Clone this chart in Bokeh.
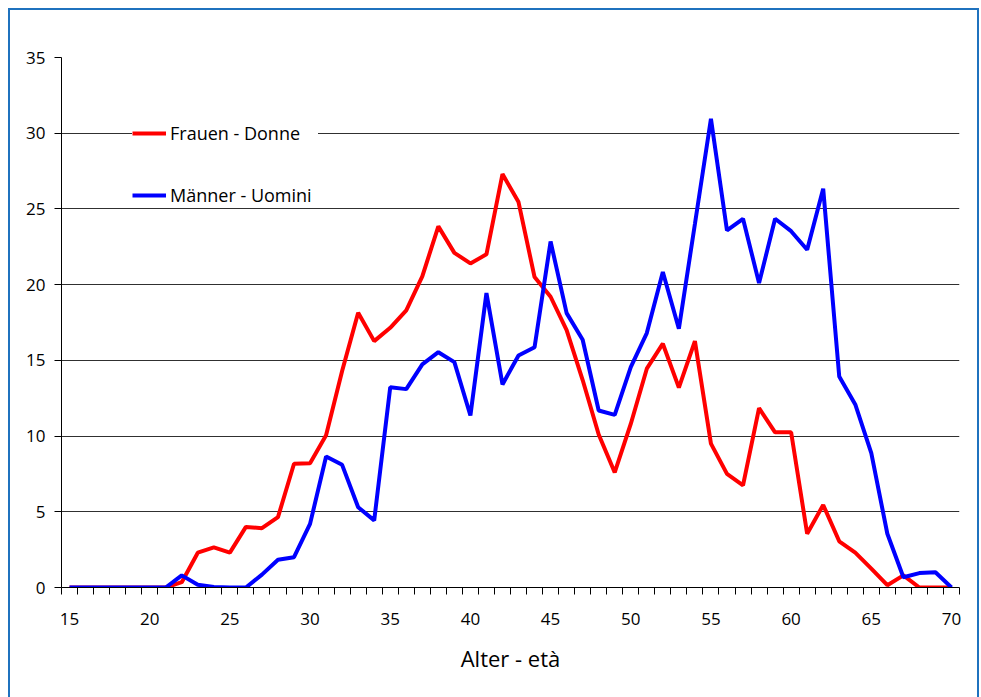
from bokeh.plotting import figure
from bokeh.models import Range1d, FixedTicker, Legend, LegendItem
from bokeh.embed import file_html
from bokeh.resources import INLINE

ages = list(range(15, 71))
frauen = [0, 0, 0, 0, 0, 0, 0, 0.35, 2.3, 2.65, 2.3, 4.0, 3.92, 4.65, 8.17, 8.2,
          10.05, 14.3, 18.15, 16.27, 17.15, 18.3, 20.55, 23.85, 22.1, 21.4, 22.0,
          27.3, 25.45, 20.5, 19.2, 17.0, 13.7, 10.1, 7.6, 10.8, 14.45, 16.1, 13.2,
          16.27, 9.5, 7.5, 6.75, 11.85, 10.25, 10.25, 3.55, 5.45, 3.05, 2.3, 1.25,
          0.15, 0.8, 0, 0, 0]
maenner = [0, 0, 0, 0, 0, 0, 0, 0.8, 0.18, 0.03, 0, 0, 0.85, 1.83, 2.0, 4.2,
           8.65, 8.1, 5.3, 4.43, 13.23, 13.1, 14.73, 15.54, 14.88, 11.36, 19.44,
           13.41, 15.32, 15.87, 22.85, 18.12, 16.36, 11.69, 11.4, 14.55, 16.8,
           20.83, 17.09, 24.0, 30.96, 23.58, 24.35, 20.1, 24.35, 23.53, 22.3,
           26.33, 13.94, 12.09, 8.87, 3.55, 0.68, 0.95, 1.01, 0]
x_tick_labels = [15, 20, 25, 30, 35, 40, 45, 50, 55, 60, 65, 70]
y_ticks = [0, 5, 10, 15, 20, 25, 30, 35]
series_names = ["Frauen - Donne", "Männer - Uomini"]
x_label = "Alter - età"

FONT = "Open Sans"
BLUE_BORDER = "#1F72BE"

p = figure(width=971, height=689, output_backend="svg", toolbar_location=None,
           x_range=Range1d(14.5, 70.5), y_range=Range1d(0, 35),
           min_border_left=53, min_border_top=49, min_border_right=20,
           min_border_bottom=110)
p.border_fill_color = None
p.background_fill_color = "white"
p.outline_line_color = None
p.styles = {"box-shadow": f"inset 2px 2px 0 0 {BLUE_BORDER}, inset -2px 0 0 0 {BLUE_BORDER}",
            "background-color": "white", "margin-left": "8px", "margin-top": "8px"}

r1 = p.line(ages, frauen, line_color="#FF0000", line_width=4)
r2 = p.line(ages, maenner, line_color="#0000FF", line_width=4)

# x axis
xa = p.xaxis[0]
xa.ticker = FixedTicker(ticks=x_tick_labels, minor_ticks=[a - 0.5 for a in ages] + [ages[-1] + 0.5])
xa.major_tick_out = 0
xa.major_tick_in = 0
xa.minor_tick_out = 7
xa.minor_tick_in = 0
xa.minor_tick_line_color = "black"
xa.axis_line_color = "black"
xa.major_label_standoff = 18
xa.major_label_text_font = FONT
xa.major_label_text_font_size = "17px"
xa.major_label_text_color = "black"
xa.axis_label = x_label
xa.axis_label_text_font = FONT
xa.axis_label_text_font_size = "22px"
xa.axis_label_text_font_style = "normal"
xa.axis_label_text_color = "black"
xa.axis_label_standoff = 15

ya = p.yaxis[0]
ya.ticker = FixedTicker(ticks=y_ticks, minor_ticks=[])
ya.major_tick_out = 7
ya.major_tick_in = 0
ya.major_tick_line_color = "black"
ya.axis_line_color = "black"
ya.major_label_standoff = 9
ya.major_label_text_font = FONT
ya.major_label_text_font_size = "17px"
ya.major_label_text_color = "black"

p.xgrid.visible = False
p.ygrid.ticker = FixedTicker(ticks=y_ticks)
p.ygrid.grid_line_color = "#303030"
p.ygrid.grid_line_width = 1

legend = Legend(items=[LegendItem(label=series_names[0], renderers=[r1]),
                       LegendItem(label=series_names[1], renderers=[r2])],
                location=(71, 380), border_line_color=None,
                background_fill_color="white", background_fill_alpha=1.0,
                label_text_font=FONT, label_text_font_size="18px",
                label_text_color="black",
                glyph_width=34, glyph_height=20, label_height=20,
                label_standoff=4, spacing=38, padding=10, margin=0,
                label_width=148)
p.add_layout(legend, "center")

open("out.html", "w").write(file_html(p, INLINE))
